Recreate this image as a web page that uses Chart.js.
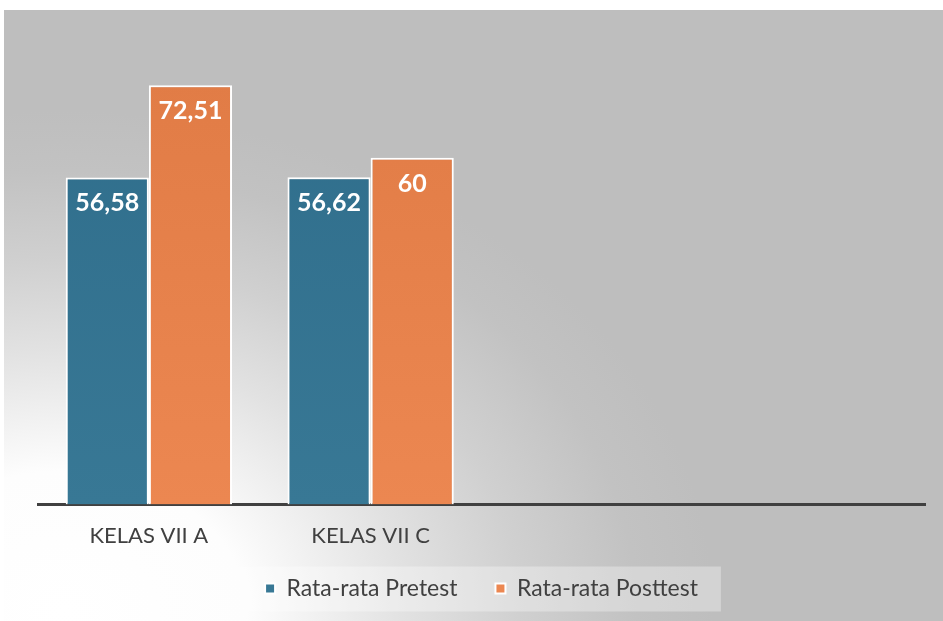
<!DOCTYPE html>
<html>
<head>
<meta charset="utf-8">
<script src="https://cdn.jsdelivr.net/npm/chart.js@4/dist/chart.umd.min.js"></script>
<style>
  html, body { margin: 0; padding: 0; background: #fff; }
  #wrap {
    position: absolute; left: 4px; top: 10px; width: 939px; height: 611px;
    background: radial-gradient(ellipse 650px 500px at 60px 601px, #ffffff 0%, #fdfdfd 28%, #e2e2e2 52%, #d0d0d0 70%, #c2c2c2 88%, #bebebe 100%);
  }
  canvas { display: block; }
</style>
</head>
<body>
<div id="wrap"><canvas id="barChart" width="939" height="611"></canvas></div>
<script>
const categories = ["KELAS VII A", "KELAS VII C", "", ""];
const pretest = [56.58, 56.62, null, null];
const posttest = [72.51, 60, null, null];
const seriesNames = ["Rata-rata Pretest", "Rata-rata Posttest"];

const FONT = "Lato, 'Open Sans', sans-serif";

function vGradient(c1, c2) {
  return function (context) {
    const area = context.chart.chartArea;
    if (!area) return c1;
    const g = context.chart.ctx.createLinearGradient(0, area.top, 0, area.bottom);
    g.addColorStop(0, c1);
    g.addColorStop(1, c2);
    return g;
  };
}

// pulls the legend up closer to the axis labels, then paints its light box
const legendBox = {
  id: "legendBox",
  afterLayout(chart) {
    const lg = chart.legend;
    lg.top -= 20;
    lg.bottom -= 20;
  },
  beforeDraw(chart) {
    const lg = chart.legend;
    if (!lg || !lg.legendHitBoxes.length) return;
    const boxes = lg.legendHitBoxes;
    const left = boxes[0].left - 37;
    const last = boxes[boxes.length - 1];
    const right = last.left + last.width + 23;
    const cy = boxes[0].top + boxes[0].height / 2;
    const ctx = chart.ctx;
    ctx.save();
    ctx.fillStyle = "rgba(255,255,255,0.32)";
    ctx.fillRect(left, cy - 22, right - left, 45);
    ctx.restore();
  }
};

// value labels inside the top of each bar
const barValues = {
  id: "barValues",
  afterDatasetsDraw(chart) {
    const ctx = chart.ctx;
    ctx.save();
    ctx.fillStyle = "#ffffff";
    ctx.font = "bold 25px " + FONT;
    ctx.textAlign = "center";
    ctx.textBaseline = "middle";
    chart.data.datasets.forEach((ds, i) => {
      const meta = chart.getDatasetMeta(i);
      meta.data.forEach((bar, j) => {
        const v = ds.data[j];
        if (v === null || v === undefined) return;
        ctx.fillText(String(v).replace(".", ","), bar.x, bar.y + 26);
      });
    });
    ctx.restore();
  }
};

new Chart(document.getElementById("barChart"), {
  type: "bar",
  data: {
    labels: categories,
    datasets: [
      {
        label: seriesNames[0],
        data: pretest,
        backgroundColor: vGradient("#2f6d8b", "#387895"),
        borderColor: "#ffffff",
        borderWidth: 2
      },
      {
        label: seriesNames[1],
        data: posttest,
        backgroundColor: vGradient("#e07b45", "#ec8751"),
        borderColor: "#ffffff",
        borderWidth: 2
      }
    ]
  },
  options: {
    responsive: false,
    animation: false,
    layout: { padding: { left: 34, right: 18, top: 32, bottom: -9 } },
    datasets: { bar: { categoryPercentage: 0.75, barPercentage: 1 } },
    scales: {
      x: {
        grid: { display: false },
        border: { display: true, color: "#404040", width: 3 },
        ticks: { color: "#404040", font: { family: FONT, size: 22 }, padding: 10 }
      },
      y: { display: false, min: 0, max: 80 }
    },
    plugins: {
      legend: {
        position: "bottom",
        labels: {
          color: "#404040",
          font: { family: FONT, size: 23 },
          boxWidth: 10,
          boxHeight: 10,
          padding: 38
        }
      },
      tooltip: { enabled: false }
    }
  },
  plugins: [legendBox, barValues]
});
</script>
</body>
</html>
